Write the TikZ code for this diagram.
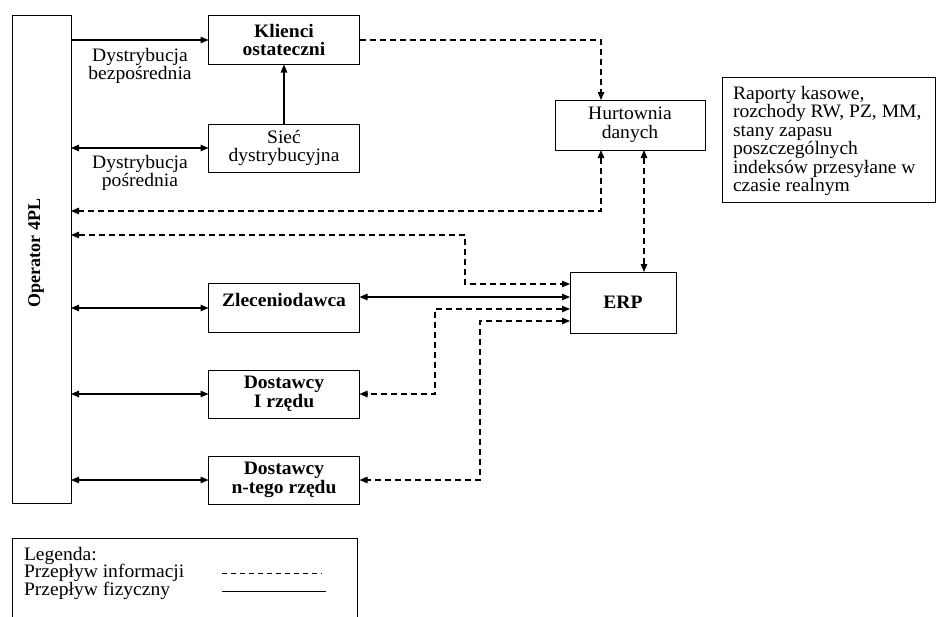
\documentclass[tikz,border=0pt]{standalone}
\usepackage{fontspec}
\setmainfont{Liberation Serif}[FakeStretch=1.03]
\newfontfamily\plainfont{Liberation Serif}
\usetikzlibrary{arrows.meta,calc}
\begin{document}
\begin{tikzpicture}[x=1pt,y=-1pt,
  >={Triangle[length=8pt,width=6.5pt]},
  txt/.style={font=\fontsize{19}{18.5}\selectfont, align=center, inner sep=0pt, outer sep=0pt},
  box/.style={txt, draw, line width=1pt},
  bbox/.style={box, font=\fontsize{19}{18.5}\selectfont\bfseries},
  phys/.style={line width=1.2pt},
  info/.style={line width=1.1pt, dash pattern=on 6pt off 4pt},
  infoleg/.style={line width=0.8pt, dash pattern=on 4.5pt off 4.5pt},
]
\useasboundingbox (0,0) rectangle (937,616);
% nodes
\node[box, minimum width=59pt, minimum height=488pt] (op) at (41.5,259) {};
\node[font=\plainfont\bfseries\fontsize{18}{18}\selectfont, rotate=90, inner sep=0pt] (opl) at (36,253) {Operator 4PL};
\node[bbox, minimum width=151pt, minimum height=49pt] (kl) at (284,40) {Klienci\\ostateczni};
\node[box, minimum width=151pt, minimum height=48pt] (sd) at (284,148) {Sieć\\dystrybucyjna};
\node[box, minimum width=150pt, minimum height=50pt] (hd) at (630,125) {Hurtownia\\danych};
\node[box, minimum width=213.5pt, minimum height=125pt] (rap) at (828.75,139.5) {};
\node[txt, align=left, anchor=north west] (rapt) at (733,86) {Raporty kasowe,\\rozchody RW, PZ, MM,\\stany zapasu\\poszczególnych\\indeksów przesyłane w\\czasie realnym};
\node[bbox, minimum width=106pt, minimum height=61pt] (erp) at (623,302.5) {ERP};
\node[box, minimum width=151pt, minimum height=49pt] (zl) at (284,308) {};
\node[txt, font=\fontsize{19}{18.5}\selectfont\bfseries] (zlt) at (284,300) {Zleceniodawca};
\node[bbox, minimum width=151pt, minimum height=48pt] (d1) at (284,394) {Dostawcy\\I rzędu};
\node[bbox, minimum width=151pt, minimum height=48pt] (dn) at (284,480) {Dostawcy\\n-tego rzędu};
\node[txt] (l1) at (140,66) {Dystrybucja\\bezpośrednia};
\node[txt] (l2) at (140,173) {Dystrybucja\\pośrednia};
% legend
\node[box, minimum width=345pt, minimum height=87pt, anchor=north west] (leg) at (12,538) {};
\node[txt, align=left, anchor=north west, font=\fontsize{19}{17.5}\selectfont] (legt) at (24,547) {Legenda:\\Przepływ informacji\\Przepływ fizyczny};
\draw[infoleg] (222,573) -- (322,573);
\draw[line width=1pt] (222,591) -- (326,591);
% bend coordinates
\coordinate (c1) at (0,211);
\coordinate (b1) at (465,235);
\coordinate (b2) at (435,0);
\coordinate (b3) at (480,0);
% physical flows
\draw[phys,->] (op.east |- kl.west) -- (kl.west);
\draw[phys,->] (sd.north) -- (kl.south);
\draw[phys,<->] (op.east |- sd.west) -- (sd.west);
\draw[phys,<->] (op.east |- zl.west) -- (zl.west);
\draw[phys,<->] (op.east |- d1.west) -- (d1.west);
\draw[phys,<->] (op.east |- dn.west) -- (dn.west);
\draw[phys,<->] ([yshift=5.5pt]erp.west -| zl.east) -- ([yshift=5.5pt]erp.west);
% information flows
\draw[info,->] (kl.east) -| ([xshift=-29pt]hd.north);
\draw[info,<->] ([xshift=-29pt]hd.south) |- (op.east |- c1);
\draw[info,<->] ([xshift=14pt]hd.south) -- ([xshift=14pt]hd.south |- erp.north);
\draw[info,<->] (op.east |- b1) -| ([yshift=18.5pt]erp.west -| b1) -- ([yshift=18.5pt]erp.west);
\draw[info,<->] ([yshift=-6.5pt]erp.west) -| (b2 |- d1.east) -- (d1.east);
\draw[info,<->] ([yshift=-18.5pt]erp.west) -| (b3 |- dn.east) -- (dn.east);
\end{tikzpicture}
\end{document}
